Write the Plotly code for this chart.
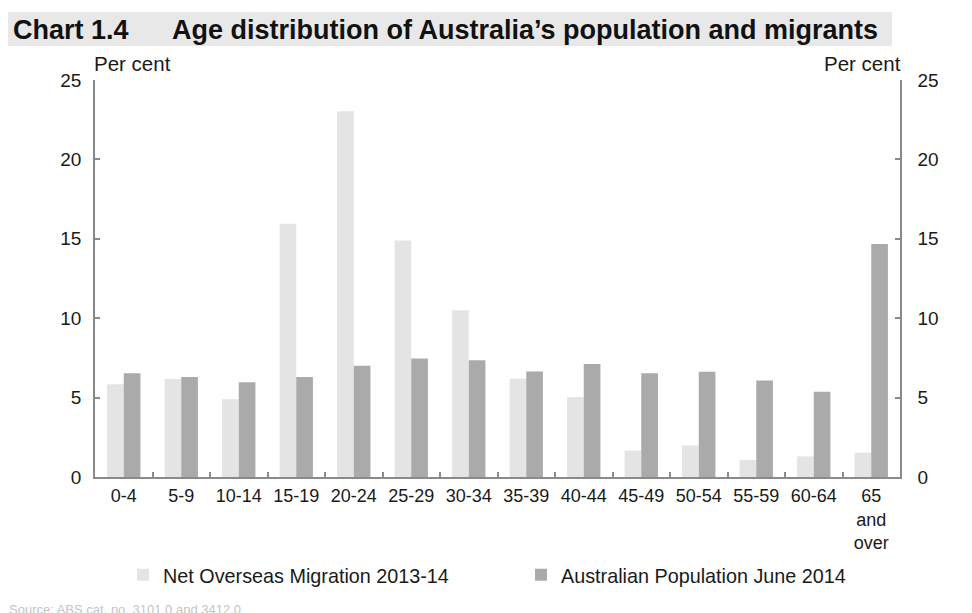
import plotly.graph_objects as go

categories = ["0-4", "5-9", "10-14", "15-19", "20-24", "25-29", "30-34", "35-39",
              "40-44", "45-49", "50-54", "55-59", "60-64", "65<br>and<br>over"]
net_overseas_migration = [5.84, 6.17, 4.89, 15.95, 23.03, 14.9, 10.5, 6.18,
                          5.04, 1.66, 1.99, 1.07, 1.30, 1.53]
australian_population = [6.53, 6.30, 5.96, 6.30, 7.01, 7.47, 7.35, 6.64,
                         7.12, 6.53, 6.63, 6.07, 5.37, 14.67]
y_ticks = [0, 5, 10, 15, 20, 25]

W, H = 972, 613
OX, OY = 8, 8          # page body margin offset
PL, PR, PT, PB = 95, 900, 80, 477   # target plot area in screen pixels
L, T = PL - OX, PT - OY
pw, ph = PR - PL, PB - PT
R, B = W - L - pw, H - T - ph


def px(x):
    return (x - OX - L) / pw


def py(y):
    return (T + ph - (y - OY)) / ph


FONT = "Liberation Sans, Arial, sans-serif"
AXC = "#8a8a8a"
TXT = "#1a1a1a"

fig = go.Figure()
fig.add_trace(go.Bar(x=categories, y=net_overseas_migration,
                     name="Net Overseas Migration 2013-14", legend="legend",
                     marker=dict(color="#e4e4e4", line=dict(width=0))))
fig.add_trace(go.Bar(x=categories, y=australian_population,
                     name="Australian Population June 2014", legend="legend2",
                     marker=dict(color="#aaaaaa", line=dict(width=0))))
# invisible trace to anchor right axis
fig.add_trace(go.Scatter(x=[categories[0]], y=[0], yaxis="y2", mode="markers",
                         marker=dict(opacity=0), showlegend=False, hoverinfo="skip"))

axis_common = dict(range=[0, 25], tickvals=y_ticks, ticks="inside", ticklen=5,
                   tickcolor=AXC, tickwidth=1.5, showline=True, linecolor=AXC,
                   linewidth=1.5, showgrid=False, zeroline=False, automargin=False,
                   tickfont=dict(family=FONT, size=19, color=TXT))

legend_common = dict(orientation="h", yanchor="middle", xanchor="left",
                     itemwidth=30, font=dict(family=FONT, size=19.8, color=TXT),
                     bgcolor="rgba(0,0,0,0)", borderwidth=0)

fig.update_layout(
    template="none",
    width=W, height=H,
    margin=dict(l=L, r=R, t=T, b=B, autoexpand=False),
    paper_bgcolor="white", plot_bgcolor="white",
    font=dict(family=FONT, color=TXT),
    barmode="group", bargap=0.42, bargroupgap=0,
    xaxis=dict(type="category", range=[-0.5, len(categories) - 0.5],
               showline=True, linecolor=AXC, linewidth=1.5,
               ticks="inside", tickson="boundaries", ticklen=5, tickcolor=AXC,
               tickwidth=1.5, showgrid=False, automargin=False, ticklabelstandoff=2,
               tickfont=dict(family=FONT, size=18, color=TXT)),
    yaxis=dict(side="left", ticklabelstandoff=8, **axis_common),
    yaxis2=dict(side="right", overlaying="y", ticklabelstandoff=12, **axis_common),
    showlegend=True,
    legend=dict(x=px(123), y=py(575), **legend_common),
    legend2=dict(x=px(521), y=py(575), **legend_common),
    shapes=[dict(type="rect", xref="paper", yref="paper",
                 x0=px(8), x1=px(892), y0=py(46), y1=py(12),
                 fillcolor="#e8e8e8", line=dict(width=0), layer="below")],
    annotations=[
        dict(text="<b>Chart 1.4</b>", xref="paper", yref="paper", x=px(11), y=py(30),
             xanchor="left", yanchor="middle", showarrow=False,
             font=dict(family=FONT, size=27, color="#111111")),
        dict(text="<b>Age distribution of Australia\u2019s population and migrants</b>",
             xref="paper", yref="paper", x=px(170), y=py(30),
             xanchor="left", yanchor="middle", showarrow=False,
             font=dict(family=FONT, size=27, color="#111111")),
        dict(text="Per cent", xref="paper", yref="paper", x=px(92), y=py(63),
             xanchor="left", yanchor="middle", showarrow=False,
             font=dict(family=FONT, size=20.5, color=TXT)),
        dict(text="Per cent", xref="paper", yref="paper", x=px(903), y=py(63),
             xanchor="right", yanchor="middle", showarrow=False,
             font=dict(family=FONT, size=20.5, color=TXT)),
        dict(text="Source: ABS cat. no. 3101.0 and 3412.0", xref="paper", yref="paper",
             x=px(7), y=py(600), xanchor="left", yanchor="top", showarrow=False,
             font=dict(family=FONT, size=13, color="#c4c4c4")),
    ],
)

fig.write_html("out.html")
